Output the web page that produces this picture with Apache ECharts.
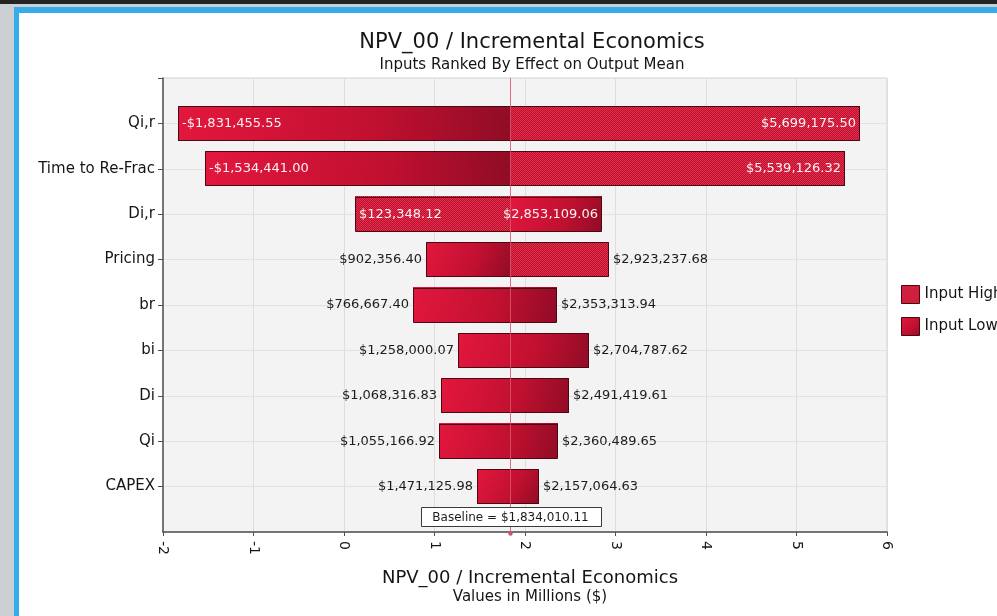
<!DOCTYPE html>
<html>
<head>
<meta charset="utf-8">
<title>NPV_00 / Incremental Economics</title>
<script src="https://cdn.jsdelivr.net/npm/echarts@6/dist/echarts.min.js"></script>
<style>
  html, body { margin: 0; padding: 0; width: 997px; height: 616px; overflow: hidden; background: #cdd0d2; }
  #topbar { position: absolute; left: 0; top: 0; width: 997px; height: 4px; background: #242424; }
  #frame { position: absolute; left: 14px; top: 7px; width: 983px; height: 609px; background: #36acea; }
  #sheet { position: absolute; left: 19px; top: 13px; width: 978px; height: 603px; background: #ffffff; }
  #chart { position: absolute; left: 0; top: 0; width: 997px; height: 616px; }
</style>
</head>
<body>
<div id="topbar"></div>
<div id="frame"></div>
<div id="sheet"></div>
<div id="chart"></div>
<script>
// Tornado chart: output range for each input, split at the baseline mean.
const categories = ['Qi,r', 'Time to Re-Frac', 'Di,r', 'Pricing', 'br', 'bi', 'Di', 'Qi', 'CAPEX'];
const leftValues = [-1831455.55, -1534441.00, 123348.12, 902356.40, 766667.40, 1258000.07, 1068316.83, 1055166.92, 1471125.98];
const rightValues = [5699175.50, 5539126.32, 2853109.06, 2923237.68, 2353313.94, 2704787.62, 2491419.61, 2360489.65, 2157064.63];
// Side of the baseline where the "Input High" segment falls ('' = bar shown in one fill)
const highSide = ['right', 'right', 'left', 'right', '', '', '', '', ''];
const baseline = 1834010.11;
const axisMin = -2000000, axisMax = 6000000, axisStep = 1000000;

const FONT = '"DejaVu Sans", "Liberation Sans", sans-serif';

// Fills
const lowFill = new echarts.graphic.LinearGradient(0, 0, 1, 1, [
  { offset: 0, color: '#e3173e' },
  { offset: 0.6, color: '#c01030' },
  { offset: 1, color: '#900c25' }
]);
function makeHatch() {
  const c = document.createElement('canvas');
  c.width = 2; c.height = 2;
  const g = c.getContext('2d');
  g.fillStyle = '#bd0d2c'; g.fillRect(0, 0, 2, 2);
  g.fillStyle = '#e3324f'; g.fillRect(0, 0, 1, 1); g.fillRect(1, 1, 1, 1);
  return c;
}
const hatchFill = { image: makeHatch(), repeat: 'repeat' };

const measureCtx = document.createElement('canvas').getContext('2d');
function textWidth(t, size) {
  measureCtx.font = size + 'px ' + FONT;
  return measureCtx.measureText(t).width;
}
function money(v) {
  return (v < 0 ? '-' : '') + '$' + Math.abs(v).toLocaleString('en-US', { minimumFractionDigits: 2, maximumFractionDigits: 2 });
}

const rows = categories.map((c, i) => [i + 1, leftValues[i], rightValues[i]]);
const BAR_FRAC = 0.78;

function segment(api, a, b, row, fill) {
  const p1 = api.coord([a, row]);
  const p2 = api.coord([b, row]);
  const h = api.size([0, 1])[1] * BAR_FRAC;
  return {
    type: 'rect',
    shape: { x: Math.round(p1[0]), y: Math.round(p1[1] - h / 2), width: Math.round(p2[0]) - Math.round(p1[0]), height: Math.round(h) },
    style: { fill: fill, stroke: null }
  };
}

function renderLow(params, api) {
  const i = params.dataIndex;
  const row = api.value(0), l = api.value(1), r = api.value(2);
  const side = highSide[i];
  if (side === 'right') return segment(api, l, baseline, row, lowFill);
  if (side === 'left') return segment(api, baseline, r, row, lowFill);
  return segment(api, l, r, row, lowFill);
}

function renderHigh(params, api) {
  const i = params.dataIndex;
  const row = api.value(0), l = api.value(1), r = api.value(2);
  const side = highSide[i];
  if (side === 'right') return segment(api, baseline, r, row, hatchFill);
  if (side === 'left') return segment(api, l, baseline, row, hatchFill);
  return null;
}

const LABEL_SIZE = 13;
function renderOutline(params, api) {
  const row = api.value(0), l = api.value(1), r = api.value(2);
  const p1 = api.coord([l, row]);
  const p2 = api.coord([r, row]);
  const h = Math.round(api.size([0, 1])[1] * BAR_FRAC);
  const x1 = Math.round(p1[0]), x2 = Math.round(p2[0]);
  const y = Math.round(p1[1] - h / 2);
  const lt = money(l), rt = money(r);
  const lw = textWidth(lt, LABEL_SIZE), rw = textWidth(rt, LABEL_SIZE);
  const inside = (x2 - x1) > lw + rw + 30;
  const pad = 4;
  const font = { fontSize: LABEL_SIZE, fontFamily: FONT };
  return {
    type: 'group',
    children: [
      { type: 'rect', shape: { x: x1 + 0.5, y: y + 0.5, width: x2 - x1 - 1, height: h - 1 },
        style: { fill: null, stroke: '#4d0614', lineWidth: 1 } },
      { type: 'text', style: Object.assign({ text: lt, x: inside ? x1 + pad : x1 - pad, y: p1[1],
        align: inside ? 'left' : 'right', verticalAlign: 'middle', fill: inside ? '#fdf0f2' : '#1c1c1c' }, font) },
      { type: 'text', style: Object.assign({ text: rt, x: inside ? x2 - pad : x2 + pad, y: p2[1],
        align: inside ? 'right' : 'left', verticalAlign: 'middle', fill: inside ? '#fdf0f2' : '#1c1c1c' }, font) }
    ]
  };
}

function renderBaseline(params, api) {
  const top = api.coord([baseline, 0]);
  const bottom = api.coord([baseline, categories.length + 1]);
  const x = Math.round(top[0]) + 0.5;
  const label = 'Baseline = ' + money(baseline);
  const bw = Math.round(textWidth(label, 12) + 24), bh = 19;
  const by = Math.round(bottom[1]) - 6 - bh;
  return {
    type: 'group',
    children: [
      { type: 'line', shape: { x1: x, y1: top[1], x2: x, y2: bottom[1] },
        style: { stroke: '#d8566c', lineWidth: 1, opacity: 0.85 } },
      { type: 'rect', shape: { x: Math.round(x - bw / 2) + 0.5, y: by + 0.5, width: bw, height: bh },
        style: { fill: '#ffffff', stroke: '#3a3a3a', lineWidth: 1 } },
      { type: 'text', style: { text: label, x: x, y: by + bh / 2 + 1, align: 'center', verticalAlign: 'middle',
        fill: '#1c1c1c', fontSize: 12, fontFamily: FONT } },
      { type: 'circle', shape: { cx: x, cy: bottom[1] + 1.5, r: 2.2 },
        style: { fill: '#c9566a', stroke: null } }
    ]
  };
}

const chart = echarts.init(document.getElementById('chart'), null, { renderer: 'canvas' });
chart.setOption({
  backgroundColor: 'transparent',
  animation: false,
  textStyle: { fontFamily: FONT },
  title: [
    {
      text: 'NPV_00 / Incremental Economics',
      subtext: 'Inputs Ranked By Effect on Output Mean',
      left: 527, top: 27, textAlign: 'center', itemGap: 5,
      textStyle: { fontSize: 21, fontWeight: 'normal', color: '#151515', fontFamily: FONT },
      subtextStyle: { fontSize: 15, color: '#151515', fontFamily: FONT }
    },
    {
      text: 'NPV_00 / Incremental Economics',
      subtext: 'Values in Millions ($)',
      left: 525, top: 564, textAlign: 'center', itemGap: 3,
      textStyle: { fontSize: 18, fontWeight: 'normal', color: '#151515', fontFamily: FONT },
      subtextStyle: { fontSize: 15, color: '#151515', fontFamily: FONT }
    }
  ],
  legend: {
    orient: 'vertical', left: 896, top: 280,
    itemWidth: 18, itemHeight: 18, itemGap: 13,
    selectedMode: false,
    textStyle: { fontSize: 15, color: '#151515', fontFamily: FONT },
    data: [
      { name: 'Input High', icon: 'rect', itemStyle: { color: hatchFill, borderColor: '#4d0614', borderWidth: 1 } },
      { name: 'Input Low', icon: 'rect', itemStyle: { color: lowFill, borderColor: '#4d0614', borderWidth: 1 } }
    ]
  },
  grid: {
    left: 163, right: 110, top: 78, bottom: 84,
    show: true, backgroundColor: '#f3f3f3', borderColor: '#d2d2d2', borderWidth: 1
  },
  xAxis: {
    type: 'value', min: axisMin, max: axisMax, interval: axisStep,
    axisLine: { show: true, onZero: false, lineStyle: { color: '#505050', width: 1.5 } },
    axisTick: { show: true, length: 4, lineStyle: { color: '#505050' } },
    splitLine: { show: true, lineStyle: { color: '#dedede', width: 1 } },
    axisLabel: { rotate: -90, margin: 9, fontSize: 14, color: '#151515', fontFamily: FONT,
      formatter: v => String(Math.round(v / 1e6)) }
  },
  yAxis: {
    type: 'category', inverse: true, boundaryGap: false,
    data: [''].concat(categories, ['']),
    axisLine: { show: true, onZero: false, lineStyle: { color: '#505050', width: 1.5 } },
    axisTick: { show: true, length: 5, inside: false, interval: idx => idx <= categories.length,
      lineStyle: { color: '#505050' } },
    splitLine: { show: true, lineStyle: { color: '#e2e2e2', width: 1 } },
    axisLabel: { margin: 8, fontSize: 15, color: '#151515', fontFamily: FONT, interval: 0 }
  },
  series: [
    { name: 'Input Low', type: 'custom', renderItem: renderLow, data: rows, encode: { x: [1, 2], y: 0 }, silent: true, z: 2 },
    { name: 'Input High', type: 'custom', renderItem: renderHigh, data: rows, encode: { x: [1, 2], y: 0 }, silent: true, z: 3 },
    { name: 'values', type: 'custom', renderItem: renderOutline, data: rows, encode: { x: [1, 2], y: 0 }, silent: true, z: 4 },
    { name: 'baseline', type: 'custom', renderItem: renderBaseline, data: [[0, baseline, baseline]], encode: { x: [1, 2], y: 0 }, silent: true, z: 5 }
  ]
});
</script>
</body>
</html>
